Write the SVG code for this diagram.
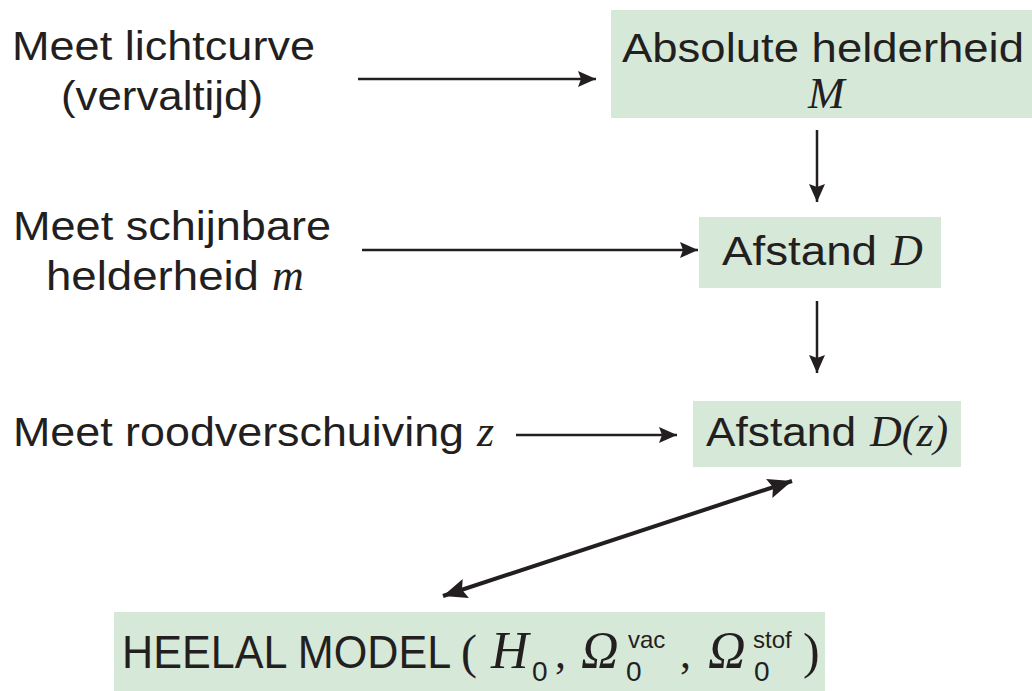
<svg xmlns="http://www.w3.org/2000/svg" width="1032" height="691" viewBox="0 0 1032 691">
<style>
.box{fill:#d6e8d8;}
.t{font-family:"Liberation Sans",Arial,sans-serif;font-size:41px;fill:#231f20;}
.m{font-family:"Liberation Serif","Times New Roman",serif;font-style:italic;font-size:44px;fill:#231f20;}
.p{font-family:"Liberation Serif","Times New Roman",serif;font-size:50px;fill:#231f20;}
.s{font-family:"Liberation Sans",Arial,sans-serif;fill:#231f20;}
.ln{stroke:#231f20;stroke-width:2.5;fill:none;}
.lnb{stroke:#231f20;stroke-width:4;fill:none;}
</style>
<defs>
<marker id="ah" markerUnits="userSpaceOnUse" markerWidth="20" markerHeight="18" refX="18" refY="8" orient="auto">
<path d="M0,0 L18,8 L0,16 L3,8 z" fill="#231f20"/>
</marker>
<marker id="ahb" markerUnits="userSpaceOnUse" markerWidth="26" markerHeight="22" refX="24" refY="10" orient="auto-start-reverse">
<path d="M0,0 L24,10 L0,20 L4,10 z" fill="#231f20"/>
</marker>
</defs>
<rect width="1032" height="691" fill="#ffffff"/>

<g id="src1">
<text class="t" x="12" y="60" textLength="303" lengthAdjust="spacingAndGlyphs">Meet lichtcurve</text>
<text class="t" x="61" y="110" textLength="202" lengthAdjust="spacingAndGlyphs">(vervaltijd)</text>
</g>
<g id="src2">
<text class="t" x="13" y="240" textLength="318" lengthAdjust="spacingAndGlyphs">Meet schijnbare</text>
<text class="t" x="46" y="290" textLength="213" lengthAdjust="spacingAndGlyphs">helderheid</text>
<text class="m" x="272" y="290">m</text>
</g>
<g id="src3">
<text class="t" x="13" y="446" textLength="451" lengthAdjust="spacingAndGlyphs">Meet roodverschuiving</text>
<text class="m" x="477" y="446">z</text>
</g>

<g id="absM">
<rect class="box" x="611" y="10" width="421" height="108"/>
<text class="t" x="622" y="62" textLength="402" lengthAdjust="spacingAndGlyphs">Absolute helderheid</text>
<text class="m" x="808" y="108">M</text>
</g>
<g id="afstandD">
<rect class="box" x="699" y="217" width="242" height="71"/>
<text class="t" x="722" y="265" textLength="155" lengthAdjust="spacingAndGlyphs">Afstand</text>
<text class="m" x="891" y="265">D</text>
</g>
<g id="afstandDz">
<rect class="box" x="693" y="401" width="268" height="66"/>
<text class="t" x="706" y="446" textLength="150" lengthAdjust="spacingAndGlyphs">Afstand</text>
<text class="m" x="870" y="446">D(z)</text>
</g>
<g id="model">
<rect class="box" x="114" y="612" width="711" height="79"/>
<text class="t" transform="translate(122,668) scale(0.918,1)" x="0" y="0" style="font-size:47px">HEELAL MODEL</text>
<text class="p" x="461" y="668" style="font-size:48px">(</text>
<text class="m" x="491" y="668" style="font-size:52px">H</text>
<text class="s" x="532" y="681" font-size="28">0</text>
<text class="p" x="555" y="668" style="font-size:44px">,</text>
<text class="m" x="581" y="668" style="font-size:52px">Ω</text>
<text class="s" x="626" y="681" font-size="28">0</text>
<text class="s" x="628" y="648" font-size="24">vac</text>
<text class="p" x="680" y="668" style="font-size:44px">,</text>
<text class="m" x="708" y="668" style="font-size:52px">Ω</text>
<text class="s" x="754" y="681" font-size="28">0</text>
<text class="s" x="753" y="648" font-size="24">stof</text>
<text class="p" x="803" y="668">)</text>
</g>

<g id="connectors">
<line class="ln" x1="358" y1="79" x2="596" y2="79" marker-end="url(#ah)"/>
<line class="ln" x1="817" y1="130" x2="817" y2="202" marker-end="url(#ah)"/>
<line class="ln" x1="362" y1="250" x2="698" y2="250" marker-end="url(#ah)"/>
<line class="ln" x1="817" y1="301" x2="817" y2="373" marker-end="url(#ah)"/>
<line class="ln" x1="516" y1="435" x2="677" y2="435" marker-end="url(#ah)"/>
<line class="lnb" x1="443" y1="596" x2="792" y2="481" marker-start="url(#ahb)" marker-end="url(#ahb)"/>
</g>
</svg>
